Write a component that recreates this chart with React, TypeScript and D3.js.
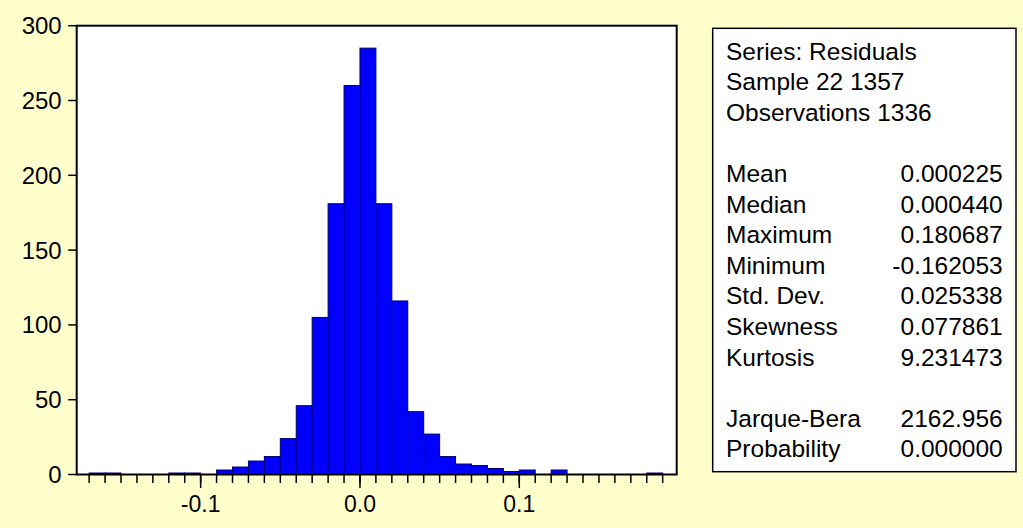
import React from "react";
import * as d3 from "d3";

// Histogram bins (lower edge of each 0.01-wide bin) and counts
const binLower = [
  -0.17, -0.16, -0.15, -0.14, -0.13, -0.12, -0.11, -0.10, -0.09, -0.08, -0.07, -0.06,
  -0.05, -0.04, -0.03, -0.02, -0.01, 0.0, 0.01, 0.02, 0.03, 0.04, 0.05, 0.06,
  0.07, 0.08, 0.09, 0.10, 0.11, 0.12, 0.13, 0.14, 0.15, 0.16, 0.17, 0.18,
];
const counts = [
  1, 1, 0, 0, 0, 1, 1, 0, 3, 5, 9, 12,
  24, 46, 105, 181, 260, 285, 181, 116, 42, 27, 12, 7,
  6, 4, 2, 3, 0, 3, 0, 0, 0, 0, 0, 1,
];
const binWidth = 0.01;

const yTicks = [0, 50, 100, 150, 200, 250, 300];
const xMinorTicks = [
  -0.17, -0.16, -0.15, -0.14, -0.13, -0.12, -0.11, -0.10, -0.09, -0.08, -0.07, -0.06,
  -0.05, -0.04, -0.03, -0.02, -0.01, 0.0, 0.01, 0.02, 0.03, 0.04, 0.05, 0.06,
  0.07, 0.08, 0.09, 0.10, 0.11, 0.12, 0.13, 0.14, 0.15, 0.16, 0.17, 0.18, 0.19,
];
const xMajorTicks = [-0.1, 0.0, 0.1];
const xMajorLabels = ["-0.1", "0.0", "0.1"];

const headerLines = ["Series: Residuals", "Sample 22 1357", "Observations 1336"];
const statNames = ["Mean", "Median", "Maximum", "Minimum", "Std. Dev.", "Skewness", "Kurtosis"];
const statValues = ["0.000225", "0.000440", "0.180687", "-0.162053", "0.025338", "0.077861", "9.231473"];
const testNames = ["Jarque-Bera", "Probability"];
const testValues = ["2162.956", "0.000000"];

const W = 1023;
const H = 528;
const FONT = "'Liberation Sans', Arial, Helvetica, sans-serif";

export default function App() {
  const plotL = 76.7, plotR = 676.7, plotT = 25.7, plotB = 474.5;
  const x = d3.scaleLinear().domain([-0.1778, 0.1988]).range([plotL, plotR]);
  const y = d3.scaleLinear().domain([0, 300]).range([plotB, plotT]);

  const bins = binLower.map((lo, i) => ({ lo, hi: lo + binWidth, n: counts[i] })).filter(b => b.n > 0);

  const boxL = 712.7, boxR = 1016, boxT = 28.3, boxB = 471.7;
  const textL = 726, textR = 1002.7;
  const base0 = 59.5, step = 30.6;

  return (
    <svg
      width={W}
      height={H}
      style={{ position: "absolute", left: 0, top: 0, display: "block" }}
      fontFamily={FONT}
    >
      <rect x={0} y={0} width={W} height={H} fill="#FFFFCC" />
      {/* plot area */}
      <rect x={plotL} y={plotT} width={plotR - plotL} height={plotB - plotT} fill="#FFFFFF" />
      {bins.map((b, i) => (
        <rect
          key={i}
          x={x(b.lo)}
          y={y(b.n)}
          width={x(b.hi) - x(b.lo)}
          height={y(0) - y(b.n)}
          fill="#0000FF"
          stroke="#000070"
          strokeWidth={1}
        />
      ))}
      <rect
        x={plotL}
        y={plotT}
        width={plotR - plotL}
        height={plotB - plotT}
        fill="none"
        stroke="#000000"
        strokeWidth={2}
      />
      {/* y axis */}
      {yTicks.map(t => (
        <g key={"y" + t}>
          <line x1={plotL - 8.5} x2={plotL} y1={y(t)} y2={y(t)} stroke="#000" strokeWidth={1.5} />
          <text
            x={61.7}
            y={y(t)}
            textAnchor="end"
            dominantBaseline="central"
            fontSize={24}
            fill="#000"
          >
            {t}
          </text>
        </g>
      ))}
      {/* x axis */}
      {xMinorTicks.map(t => (
        <line key={"xm" + t} x1={x(t)} x2={x(t)} y1={plotB} y2={plotB + 8.5} stroke="#000" strokeWidth={1.5} />
      ))}
      {xMajorTicks.map((t, i) => (
        <g key={"xM" + t}>
          <line x1={x(t)} x2={x(t)} y1={plotB} y2={plotB + 13.5} stroke="#000" strokeWidth={1.5} />
          <text x={x(t)} y={511.5} textAnchor="middle" fontSize={23} fill="#000">
            {xMajorLabels[i]}
          </text>
        </g>
      ))}
      {/* statistics box */}
      <rect x={boxL} y={boxT} width={boxR - boxL} height={boxB - boxT} fill="#FFFFFF" stroke="#000" strokeWidth={1.5} />
      <g fontSize={24.5} fill="#000">
        {headerLines.map((s, i) => (
          <text key={"h" + i} x={textL} y={base0 + step * i}>{s}</text>
        ))}
        {statNames.map((s, i) => (
          <g key={"s" + i}>
            <text x={textL} y={base0 + step * (4 + i)}>{s}</text>
            <text x={textR} y={base0 + step * (4 + i)} textAnchor="end">{statValues[i]}</text>
          </g>
        ))}
        {testNames.map((s, i) => (
          <g key={"t" + i}>
            <text x={textL} y={base0 + step * (12 + i)}>{s}</text>
            <text x={textR} y={base0 + step * (12 + i)} textAnchor="end">{testValues[i]}</text>
          </g>
        ))}
      </g>
    </svg>
  );
}
